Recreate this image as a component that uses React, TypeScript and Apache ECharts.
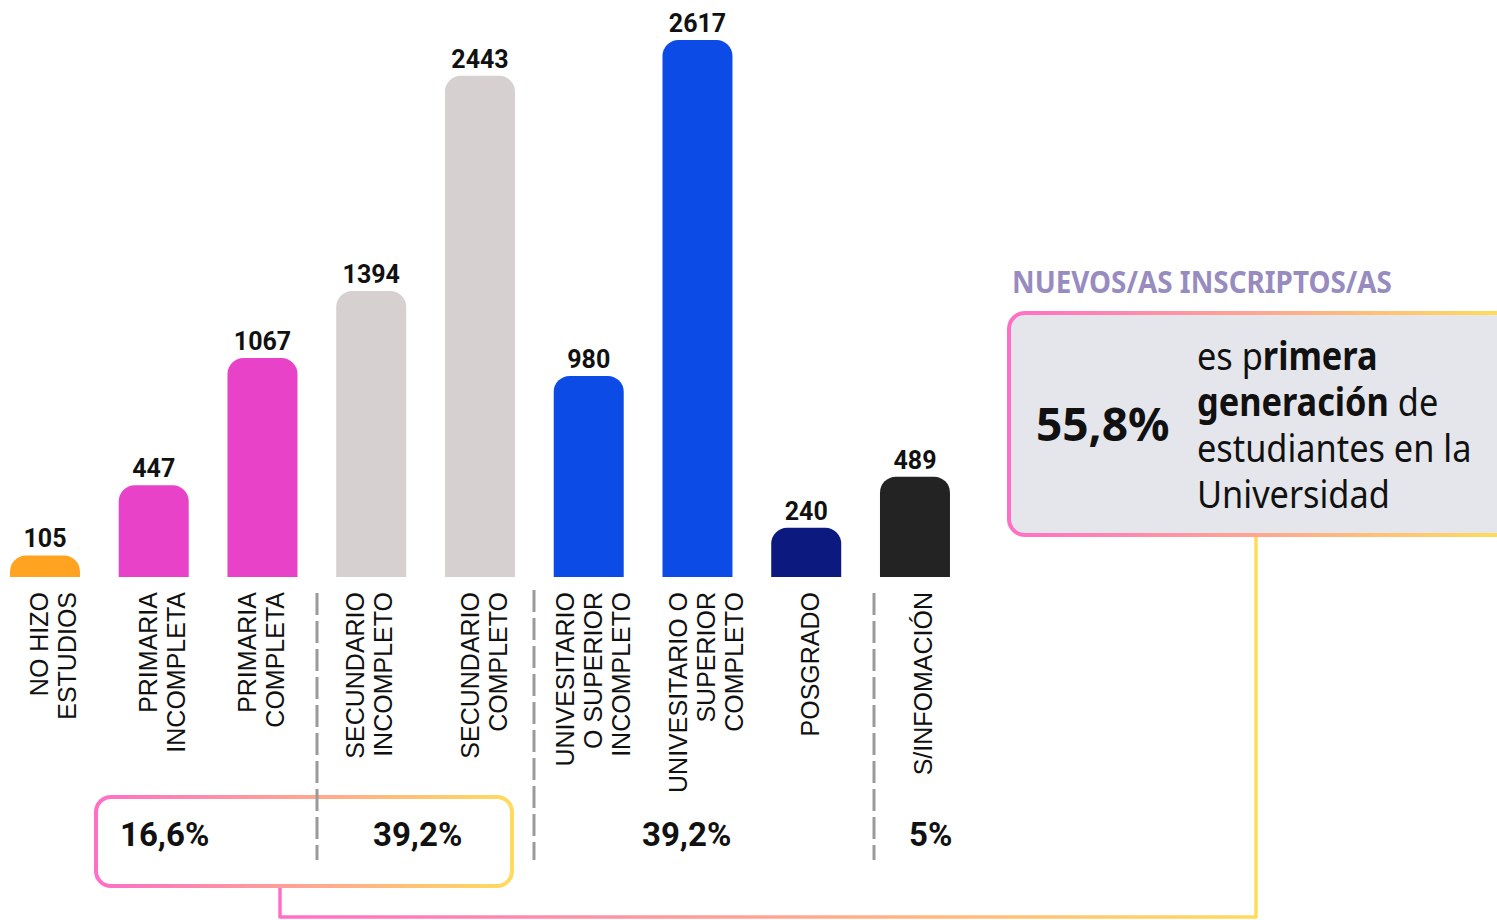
import React, { useEffect, useRef } from "react";
import * as echarts from "echarts";

const categories = [
  "NO HIZO\nESTUDIOS",
  "PRIMARIA\nINCOMPLETA",
  "PRIMARIA\nCOMPLETA",
  "SECUNDARIO\nINCOMPLETO",
  "SECUNDARIO\nCOMPLETO",
  "UNIVESITARIO\nO SUPERIOR\nINCOMPLETO",
  "UNIVESITARIO O\nSUPERIOR\nCOMPLETO",
  "POSGRADO",
  "S/INFOMACIÓN",
];
const values = [105, 447, 1067, 1394, 2443, 980, 2617, 240, 489];
const barColors = [
  "#FFA320",
  "#E843C8",
  "#E843C8",
  "#D6D0D0",
  "#D6D0D0",
  "#0D4BE6",
  "#0D4BE6",
  "#0C1A80",
  "#232323",
];
const groupShares = ["16,6%", "39,2%", "39,2%", "5%"];
const headline = "NUEVOS/AS INSCRIPTOS/AS";
const highlightValue = "55,8%";

const PINK = "#FF6EC7";
const YELLOW = "#FFDB5C";
const OX = 10; // chart canvas is shifted left by OX px
const GRID_LEFT = OX - 9.4;
const GRID_W = 978.75;
const GRID_H = 577;
const Y_MAX = 2812;

// horizontal nudges of the rotated category labels (layout only)
const labelGroups = [
  { shift: 8.5, idx: [0, 1, 6, 8] },
  { shift: 4, idx: [4, 5, 7] },
  { shift: -3.5, idx: [2, 3] },
];

export default function App() {
  const ref = useRef<HTMLDivElement>(null);

  useEffect(() => {
    if (!ref.current) return;
    const chart = echarts.init(ref.current, undefined, { renderer: "svg" });
    const grad = () =>
      new echarts.graphic.LinearGradient(0, 0, 1, 0, [
        { offset: 0, color: PINK },
        { offset: 1, color: YELLOW },
      ]);
    const dash = (x: number, y1: number, y2: number) => ({
      type: "line",
      shape: { x1: x + OX, y1, x2: x + OX, y2 },
      style: { stroke: "#9A9A9A", lineWidth: 3, lineDash: [22, 6] },
      z: 20,
    });
    const shareText = (x: number, text: string) => ({
      type: "text",
      x: x + OX,
      y: 834,
      style: {
        text,
        fontFamily: "Roboto",
        fontWeight: "bold",
        fontSize: 33,
        fill: "#111",
        textAlign: "left",
        textVerticalAlign: "middle",
      },
      z: 30,
    });
    const rt = { fontFamily: "Noto Sans", fontSize: 39, fill: "#111", lineHeight: 46 };

    const grids: any[] = [{ left: GRID_LEFT, top: 0, width: GRID_W, height: GRID_H }];
    const xAxes: any[] = [
      {
        type: "category",
        gridIndex: 0,
        data: categories,
        axisLine: { show: false },
        axisTick: { show: false },
        axisLabel: { show: false },
      },
    ];
    const yAxes: any[] = [
      { type: "value", gridIndex: 0, min: 0, max: Y_MAX, show: false, splitLine: { show: false } },
    ];
    labelGroups.forEach((g, k) => {
      const gi = k + 1;
      grids.push({ left: GRID_LEFT + g.shift, top: 0, width: GRID_W, height: GRID_H });
      xAxes.push({
        type: "category",
        gridIndex: gi,
        data: categories,
        axisLine: { show: false },
        axisTick: { show: false },
        axisLabel: {
          rotate: 90,
          margin: 15,
          interval: 0,
          fontFamily: "Liberation Sans",
          fontSize: 25,
          lineHeight: 28,
          color: "#111",
          formatter: (v: string, i: number) => (g.idx.includes(i) ? v : ""),
        },
      });
      yAxes.push({
        type: "value",
        gridIndex: gi,
        min: 0,
        max: Y_MAX,
        show: false,
        splitLine: { show: false },
      });
    });

    chart.setOption({
      animation: false,
      grid: grids,
      xAxis: xAxes,
      yAxis: yAxes,
      series: [
        {
          type: "bar",
          xAxisIndex: 0,
          yAxisIndex: 0,
          data: values.map((v, i) => ({ value: v, itemStyle: { color: barColors[i] } })),
          barWidth: 70,
          itemStyle: { borderRadius: [16, 16, 0, 0] },
          label: {
            show: true,
            position: "top",
            distance: 4,
            fontFamily: "Roboto",
            fontWeight: "bold",
            fontSize: 25,
            color: "#111",
          },
        },
      ],
      graphic: [
        {
          type: "polyline",
          shape: {
            points: [
              [280 + OX, 886],
              [280 + OX, 917],
              [1256 + OX, 917],
              [1256 + OX, 535],
            ],
          },
          style: { stroke: grad(), lineWidth: 3.5, fill: null, lineJoin: "round" },
          z: 5,
        },
        {
          type: "rect",
          shape: { x: 96 + OX, y: 797, width: 416, height: 89, r: 15 },
          style: { fill: "#FFFFFF", stroke: grad(), lineWidth: 4 },
          z: 10,
        },
        dash(317, 593, 860),
        dash(534, 590, 860),
        dash(874, 593, 860),
        shareText(120, groupShares[0]),
        shareText(373, groupShares[1]),
        shareText(642, groupShares[2]),
        shareText(909, groupShares[3]),
        {
          type: "rect",
          shape: { x: 1009 + OX, y: 313, width: 520, height: 222, r: 16 },
          style: {
            fill: "#E5E6EB",
            stroke: new echarts.graphic.LinearGradient(0, 0, 0.94, 0, [
              { offset: 0, color: PINK },
              { offset: 1, color: YELLOW },
            ]),
            lineWidth: 4,
          },
          z: 10,
        },
        {
          type: "text",
          x: 1012 + OX,
          y: 281,
          scaleX: 0.928,
          style: {
            text: headline,
            fontFamily: "Noto Sans",
            fontWeight: "bold",
            fontSize: 30,
            fill: "#978BC0",
            textAlign: "left",
            textVerticalAlign: "middle",
          },
          z: 30,
        },
        {
          type: "text",
          x: 1036 + OX,
          y: 423,
          style: {
            text: highlightValue,
            fontFamily: "Noto Sans",
            fontWeight: "bold",
            fontSize: 46,
            fill: "#111",
            textAlign: "left",
            textVerticalAlign: "middle",
          },
          z: 30,
        },
        {
          type: "text",
          x: 1197 + OX,
          y: 424,
          scaleX: 0.88,
          style: {
            text:
              "{r|es p}{b|rimera}\n{b|generación}{r| de}\n{r|estudiantes en la}\n{r|Universidad}",
            fontFamily: "Noto Sans",
            fontSize: 39,
            lineHeight: 46,
            fill: "#111",
            textAlign: "left",
            textVerticalAlign: "middle",
            rich: {
              r: { ...rt },
              b: { ...rt, fontWeight: "bold" },
            },
          },
          z: 30,
        },
      ],
    });
    return () => chart.dispose();
  }, []);

  return (
    <div
      ref={ref}
      style={{
        position: "absolute",
        left: -OX,
        top: 0,
        width: 1497 + OX,
        height: 920,
        background: "#fff",
      }}
    />
  );
}
